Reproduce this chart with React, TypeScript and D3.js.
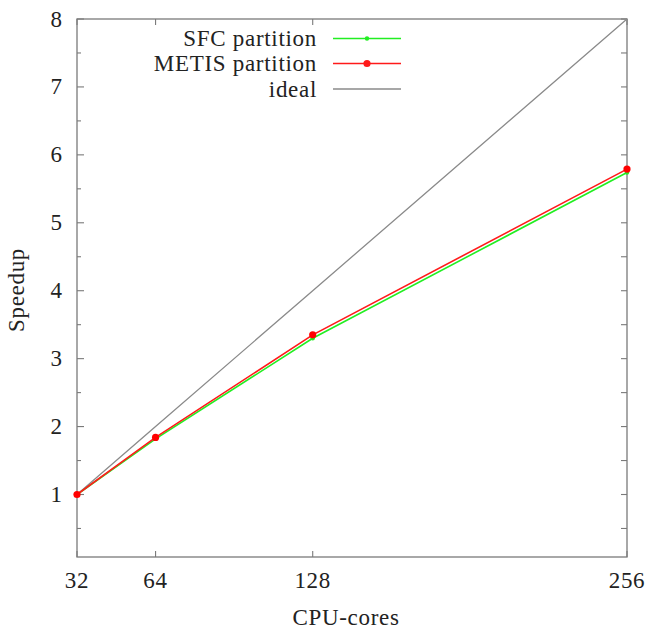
import React from "react";
import * as d3 from "d3";

const cores = [32, 64, 128, 256];
const sfcSpeedup = [1, 1.82, 3.3, 5.74];
const metisSpeedup = [1, 1.84, 3.35, 5.79];
const idealSpeedup = [1, 2, 4, 8];
const xTickValues = [32, 64, 128, 256];
const yTickLabels = [1, 2, 3, 4, 5, 6, 7, 8];
const yMinorTicks = [0.5, 1.5, 2.5, 3.5, 4.5, 5.5, 6.5, 7.5];
const seriesNames = ["SFC partition", "METIS partition", "ideal"];

const W = 646;
const H = 629;
const left = 77, right = 627, top = 19, bottom = 557;
const FONT = "'Liberation Serif', 'DejaVu Serif', serif";
const AX = "#7a7a7a";
const FS = 23;
const LS = 0.7;

export default function App() {
  const x = d3.scaleLinear().domain([32, 256]).range([left, right]);
  const y = d3.scaleLinear().domain([0.08, 8]).range([bottom, top]);
  const line = d3
    .line<[number, number]>()
    .x((d) => x(d[0]))
    .y((d) => y(d[1]));
  const pts = (vals: number[]) => cores.map((c, i) => [c, vals[i]] as [number, number]);

  const legendRows = [
    { name: seriesNames[0], color: "#22ee22", r: 2.2, marker: true },
    { name: seriesNames[1], color: "#ff1a1a", r: 3.6, marker: true },
    { name: seriesNames[2], color: "#8a8a8a", r: 0, marker: false },
  ];
  const legY = [38.5, 63.5, 89];

  return (
    <svg
      width={W}
      height={H}
      style={{ position: "absolute", left: 0, top: 0, background: "#fff" }}
      fontFamily={FONT}
    >
      <rect x={left} y={top} width={right - left} height={bottom - top} fill="none" stroke={AX} strokeWidth={1.3} />
      {yTickLabels.map((v) => (
        <g key={"ym" + v}>
          <line x1={left} x2={left + 7} y1={y(v)} y2={y(v)} stroke={AX} strokeWidth={1.1} />
          <line x1={right} x2={right - 6} y1={y(v)} y2={y(v)} stroke={AX} strokeWidth={1.1} />
          <text x={62} y={y(v) + 7.5} textAnchor="end" fontSize={FS} fill="#222">
            {v}
          </text>
        </g>
      ))}
      {yMinorTicks.map((v) => (
        <g key={"yn" + v}>
          <line x1={left} x2={left + 4} y1={y(v)} y2={y(v)} stroke={AX} strokeWidth={1.1} />
          <line x1={right} x2={right - 6} y1={y(v)} y2={y(v)} stroke={AX} strokeWidth={1.1} />
        </g>
      ))}
      {xTickValues.map((v) => (
        <g key={"x" + v}>
          <line x1={x(v)} x2={x(v)} y1={bottom} y2={bottom - 6} stroke={AX} strokeWidth={1.1} />
          <line x1={x(v)} x2={x(v)} y1={top} y2={top + 6} stroke={AX} strokeWidth={1.1} />
          <text x={x(v)} y={588} textAnchor="middle" fontSize={FS} letterSpacing={LS} fill="#222">
            {v}
          </text>
        </g>
      ))}
      <text x={346} y={625} textAnchor="middle" fontSize={FS} letterSpacing={LS} fill="#222">
        CPU-cores
      </text>
      <text
        transform={`translate(24,290) rotate(-90)`}
        textAnchor="middle"
        fontSize={FS}
        letterSpacing={LS}
        fill="#222"
      >
        Speedup
      </text>
      <path d={line(pts(idealSpeedup)) || ""} fill="none" stroke="#8a8a8a" strokeWidth={1.3} />
      <path d={line(pts(sfcSpeedup)) || ""} fill="none" stroke="#22ee22" strokeWidth={1.6} />
      {pts(sfcSpeedup).map((p, i) => (
        <circle key={"s" + i} cx={x(p[0])} cy={y(p[1])} r={2.2} fill="#22ee22" />
      ))}
      <path d={line(pts(metisSpeedup)) || ""} fill="none" stroke="#ff1a1a" strokeWidth={1.6} />
      {pts(metisSpeedup).map((p, i) => (
        <circle key={"m" + i} cx={x(p[0])} cy={y(p[1])} r={3.6} fill="#ff0000" />
      ))}
      {legendRows.map((r, i) => (
        <g key={"l" + i}>
          <text x={317} y={legY[i] + 7.5} textAnchor="end" fontSize={FS} letterSpacing={LS} fill="#222">
            {r.name}
          </text>
          <line x1={333} x2={401} y1={legY[i]} y2={legY[i]} stroke={r.color} strokeWidth={1.6} />
          {r.marker && <circle cx={367} cy={legY[i]} r={r.r} fill={r.color} />}
        </g>
      ))}
    </svg>
  );
}
